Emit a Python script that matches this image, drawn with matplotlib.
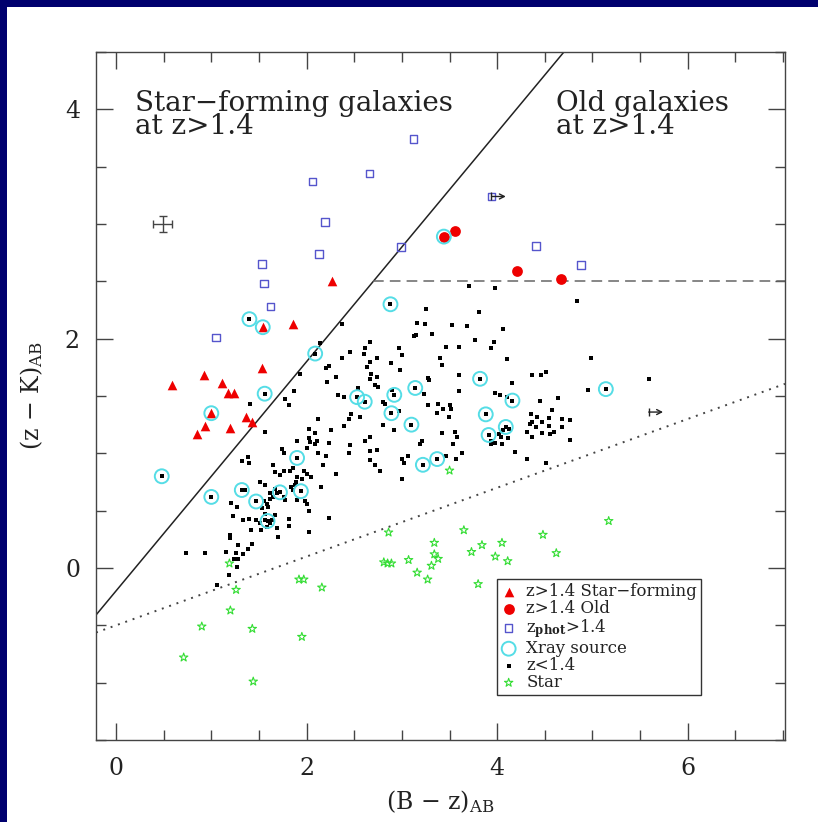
import numpy as np
import matplotlib
matplotlib.use("Agg")
import matplotlib.pyplot as plt
from matplotlib.patches import Rectangle
from matplotlib.ticker import MultipleLocator

plt.rcParams['font.family'] = ['DejaVu Serif']
plt.rcParams['mathtext.fontset'] = 'dejavuserif'

# ---------------- data: (B-z, z-K) colours ----------------
sf_pts = [(2.27, 2.50), (1.86, 2.13), (1.54, 2.10), (1.53, 1.74), (0.92, 1.68),
          (0.59, 1.60), (1.11, 1.61), (1.18, 1.53), (1.24, 1.53), (1.00, 1.35),
          (1.36, 1.32), (1.43, 1.27), (0.93, 1.24), (0.85, 1.17), (1.20, 1.22)]

old_pts = [(3.44, 2.89), (3.56, 2.94), (4.21, 2.59), (4.67, 2.52)]

phot_pts = [(3.12, 3.74), (2.66, 3.44), (2.06, 3.37), (2.19, 3.02), (2.99, 2.80),
            (2.13, 2.74), (1.53, 2.65), (1.55, 2.48), (1.62, 2.28), (1.05, 2.01),
            (3.94, 3.24), (4.41, 2.81), (4.88, 2.64)]

xray_pts = [(1.40, 2.17), (1.54, 2.10), (2.09, 1.87), (1.56, 1.52), (1.00, 1.35),
            (0.48, 0.80), (1.00, 0.62), (1.32, 0.68), (1.47, 0.58), (1.72, 0.66),
            (1.94, 0.67), (1.59, 0.41), (1.90, 0.96), (2.88, 2.30), (2.53, 1.49),
            (2.61, 1.45), (2.92, 1.51), (3.14, 1.57), (2.89, 1.35), (3.10, 1.25),
            (3.22, 0.90), (3.37, 0.95), (3.82, 1.65), (4.16, 1.46), (3.88, 1.34),
            (4.09, 1.23), (3.91, 1.16), (5.14, 1.56), (3.44, 2.89)]

lowz_pts = [
    (0.73, 0.13), (0.93, 0.13), (1.06, -0.15), (1.19, -0.06), (1.27, 0.01), (1.15, 0.14),
    (1.26, 0.13), (1.33, 0.12), (1.28, 0.08), (1.24, 0.08), (1.38, 0.17), (1.43, 0.21),
    (1.20, 0.29), (1.20, 0.26), (1.42, 0.33), (1.33, 0.42), (1.40, 0.43), (1.47, 0.42),
    (1.21, 0.57), (1.27, 0.53), (1.23, 0.45), (1.52, 0.33), (1.51, 0.39), (1.56, 0.42),
    (1.64, 0.42), (1.67, 0.46), (1.69, 0.35), (1.70, 0.27), (1.81, 0.43), (1.82, 0.37),
    (2.02, 0.50), (2.03, 0.31), (2.23, 0.44), (2.15, 0.71), (1.59, 0.41), (1.62, 0.39),
    (1.58, 0.36), (1.28, 0.20), (1.47, 0.58), (1.55, 0.58), (1.62, 0.60), (1.58, 0.56),
    (1.60, 0.53), (1.53, 0.52), (1.56, 0.47), (1.00, 0.62), (1.32, 0.68), (1.35, 0.68),
    (1.72, 0.66), (1.94, 0.67), (1.67, 0.69), (1.69, 0.65), (1.62, 0.65), (1.76, 0.62),
    (1.77, 0.59), (1.84, 0.71), (1.88, 0.72), (1.86, 0.68), (1.90, 0.59), (1.98, 0.58),
    (2.00, 0.56), (1.51, 0.75), (1.56, 0.72), (1.65, 0.62), (1.90, 0.79), (1.89, 0.75),
    (1.65, 0.90), (1.67, 0.84), (1.72, 0.81), (1.76, 0.85), (1.83, 0.85), (1.86, 0.87),
    (1.90, 0.96), (1.38, 0.97), (1.40, 0.92), (1.32, 0.93), (2.00, 0.82), (1.97, 0.85),
    (1.95, 0.78), (2.05, 0.79), (2.31, 0.82), (1.74, 1.04), (1.76, 1.00), (2.12, 1.00),
    (2.20, 0.98), (2.17, 0.90), (1.90, 1.11), (2.00, 1.05), (2.04, 1.10), (2.09, 1.08),
    (1.40, 2.17), (2.09, 1.87), (1.56, 1.52), (2.14, 1.96), (2.20, 1.74), (2.24, 1.76),
    (1.93, 1.69), (2.21, 1.62), (1.87, 1.54), (1.77, 1.47), (1.82, 1.42), (1.41, 1.43),
    (2.12, 1.30), (1.56, 1.19), (2.02, 1.21), (2.09, 1.18), (2.03, 1.13), (2.11, 1.11),
    (2.24, 1.09), (2.37, 2.13), (2.26, 1.20),
    (2.88, 2.30), (3.25, 2.26), (3.16, 2.14), (3.24, 2.13), (3.53, 2.12), (3.68, 2.11),
    (3.70, 2.46), (3.13, 2.02), (3.15, 2.03), (3.32, 2.04), (2.66, 1.97), (2.61, 1.92),
    (2.46, 1.88), (2.60, 1.87), (2.97, 1.92), (3.00, 1.86), (3.46, 1.93), (3.60, 1.93),
    (2.37, 1.83), (2.74, 1.83), (2.66, 1.80), (2.89, 1.79), (2.63, 1.75), (3.40, 1.83),
    (3.42, 1.77), (2.98, 1.73), (2.31, 1.67), (2.68, 1.69), (2.66, 1.65), (2.74, 1.67),
    (3.27, 1.66), (3.28, 1.64), (3.60, 1.68), (2.72, 1.60), (2.75, 1.58), (2.33, 1.51),
    (2.39, 1.49), (2.53, 1.49), (2.61, 1.45), (2.54, 1.57), (2.80, 1.45), (2.82, 1.43),
    (2.92, 1.51), (2.90, 1.55), (3.14, 1.57), (3.23, 1.52), (3.60, 1.54), (3.27, 1.42),
    (3.38, 1.43), (3.37, 1.35), (3.43, 1.39), (3.50, 1.42), (3.52, 1.39), (3.49, 1.32),
    (2.47, 1.34), (2.44, 1.30), (2.56, 1.32), (2.89, 1.35), (2.97, 1.37), (2.39, 1.24),
    (2.61, 1.11), (2.67, 1.14), (2.46, 1.07), (2.44, 1.00), (2.67, 1.02), (2.74, 1.03),
    (2.66, 0.94), (2.72, 0.90), (2.77, 0.85), (2.80, 1.25), (2.92, 1.20), (3.00, 0.95),
    (3.02, 0.92), (3.06, 0.98), (3.00, 0.78), (3.21, 1.11), (3.19, 1.08), (3.42, 1.18),
    (3.56, 1.19), (3.58, 1.14), (3.54, 1.08), (3.46, 0.98), (3.57, 0.95), (3.63, 1.00),
    (3.10, 1.25), (3.22, 0.90), (3.37, 0.95),
    (3.98, 2.44), (4.84, 2.33), (3.81, 2.23), (4.06, 2.08), (3.77, 1.99), (3.97, 1.97),
    (3.93, 1.92), (4.10, 1.82), (4.98, 1.83), (4.37, 1.68), (4.46, 1.68), (4.51, 1.71),
    (3.82, 1.65), (4.16, 1.61), (3.98, 1.53), (4.03, 1.51), (4.10, 1.49), (4.16, 1.46),
    (4.95, 1.55), (5.14, 1.56), (4.45, 1.46), (4.64, 1.48), (3.88, 1.34), (4.57, 1.38),
    (4.35, 1.34), (4.42, 1.32), (4.54, 1.31), (4.68, 1.30), (4.76, 1.29), (4.34, 1.26),
    (4.37, 1.27), (4.47, 1.27), (4.41, 1.23), (4.68, 1.23), (4.54, 1.24), (4.31, 1.19),
    (4.47, 1.18), (4.55, 1.17), (4.60, 1.19), (4.09, 1.23), (4.06, 1.20), (4.12, 1.21),
    (4.02, 1.17), (4.04, 1.14), (4.11, 1.13), (4.37, 1.14), (4.76, 1.12), (3.91, 1.16),
    (3.94, 1.11), (3.98, 1.09), (4.05, 1.08), (3.93, 1.08), (4.19, 1.01), (4.31, 0.95),
    (4.51, 0.92), (5.59, 1.65), (0.48, 0.80)]

star_pts = [(2.86, 0.31), (3.65, 0.33), (3.34, 0.22), (3.84, 0.20), (4.05, 0.22),
            (3.73, 0.14), (3.34, 0.12), (3.38, 0.08), (3.31, 0.02), (3.98, 0.10),
            (4.11, 0.06), (2.81, 0.05), (2.85, 0.04), (2.89, 0.04), (3.07, 0.07),
            (3.16, -0.04), (3.27, -0.10), (3.80, -0.14), (1.19, 0.04), (1.92, -0.10),
            (1.97, -0.10), (2.16, -0.17), (1.26, -0.19), (1.20, -0.37), (0.90, -0.51),
            (1.43, -0.53), (1.95, -0.60), (0.71, -0.78), (1.44, -0.99), (3.50, 0.85),
            (5.17, 0.41), (4.48, 0.29), (4.62, 0.13)]

# lower limits in B-z (arrows pointing to redder colours)
limit_x = [3.94, 5.59]
limit_y = [3.24, 1.36]
limit_len = 0.15

# typical error bar
err_pos = (0.49, 3.0)
err_size = (0.10, 0.07)

# selection boundaries
bzk_cut = -0.2        # (z-K) = (B-z) - 0.2
old_cut = 2.5         # (z-K) = 2.5
star_slope, star_icpt = 0.3, -0.5

region_labels = ["Star\u2212forming galaxies\nat z>1.4", "Old galaxies\nat z>1.4"]
legend_labels = ["z>1.4 Star\u2212forming", "z>1.4 Old", r"z$_{\mathbf{phot}}$>1.4",
                 "Xray source", "z<1.4", "Star"]

xlim = (-0.21, 7.02)
ylim = (-1.5, 4.5)

# ---------------- figure ----------------
W, H = 818, 822
fig = plt.figure(figsize=(W / 100, H / 100), dpi=100)
fig.patch.set_facecolor('#00006e')
fig.add_artist(Rectangle((7 / W, 0), 1, 1 - 7 / H, transform=fig.transFigure,
                         facecolor='white', edgecolor='none', zorder=-10))

ax = fig.add_axes([96 / W, 1 - 740 / H, (785 - 96) / W, (740 - 52) / H])
ax.set_xlim(*xlim)
ax.set_ylim(*ylim)

def xy(pts):
    a = np.array(pts, dtype=float)
    return a[:, 0], a[:, 1]

# boundaries
xs = np.array(xlim)
ax.plot(xs, xs + bzk_cut, color='#222222', lw=1.1, zorder=2)
ax.plot([old_cut - bzk_cut, xlim[1]], [old_cut, old_cut], color='#666666', lw=1.1,
        ls=(0, (7, 4)), zorder=2)
ax.plot(xs, star_slope * xs + star_icpt, color='#444444', lw=1.4, ls=(0, (1, 3)), zorder=2)

# points
h_low = ax.scatter(*xy(lowz_pts), s=12, marker='s', c='black', linewidths=0, zorder=3)
h_star = ax.scatter(*xy(star_pts), s=40, marker='*', facecolors='none',
                    edgecolors='#33dd33', linewidths=0.8, zorder=3)
h_sf = ax.scatter(*xy(sf_pts), s=48, marker='^', c='#ee0000', linewidths=0, zorder=4)
h_old = ax.scatter(*xy(old_pts), s=60, marker='o', c='#ee0000', linewidths=0, zorder=4)
h_phot = ax.scatter(*xy(phot_pts), s=30, marker='s', facecolors='none',
                    edgecolors='#5555cc', linewidths=1.0, zorder=4)
h_xray = ax.scatter(*xy(xray_pts), s=100, marker='o', facecolors='none',
                    edgecolors='#55dde6', linewidths=1.4, zorder=5)

# limit arrows: short bar at the measured colour, open head at the end
ax.scatter(limit_x, limit_y, s=40, marker='|', c='#222222', linewidths=1.0, zorder=6)
for x0, y0 in zip(limit_x, limit_y):
    ax.annotate('', xy=(x0 + limit_len, y0), xytext=(x0, y0),
                arrowprops=dict(arrowstyle='->,head_length=0.35,head_width=0.18',
                                color='#222222', lw=1.0, shrinkA=0, shrinkB=0), zorder=6)

ax.errorbar(*err_pos, xerr=err_size[0], yerr=err_size[1], fmt='none',
            ecolor='#444444', elinewidth=1.0, capsize=3, capthick=1.0, zorder=6)

# region labels
for label, x0 in zip(region_labels, [0.20, 4.62]):
    ax.text(x0, 4.17, label, fontsize=20, color='#222222', va='top', ha='left',
            linespacing=0.82)

# axes styling
ax.xaxis.set_major_locator(MultipleLocator(2))
ax.xaxis.set_minor_locator(MultipleLocator(0.5))
ax.yaxis.set_major_locator(MultipleLocator(2))
ax.yaxis.set_minor_locator(MultipleLocator(0.5))
ax.tick_params(which='both', direction='in', top=True, right=True, color='#444444',
               width=1.0, labelcolor='#222222')
ax.tick_params(which='major', length=12.5, labelsize=17)
ax.tick_params(axis='x', which='major', pad=12)
ax.tick_params(axis='y', which='major', pad=11.5)
ax.tick_params(which='minor', length=7)
for sp in ax.spines.values():
    sp.set_color('#444444')
    sp.set_linewidth(1.0)

ax.set_xlabel(r"(B $-$ z)$_{\rm AB}$", fontsize=17, color='#222222', labelpad=6)
ax.set_ylabel(r"(z $-$ K)$_{\rm AB}$", fontsize=17, color='#222222', labelpad=14)

leg = ax.legend([h_sf, h_old, h_phot, h_xray, h_low, h_star], legend_labels,
                loc='upper left', bbox_to_anchor=(0.582, 0.234), borderaxespad=0,
                fontsize=12, frameon=True, fancybox=False, edgecolor='#333333',
                framealpha=1, borderpad=0.25, labelspacing=0.0, handletextpad=0.6,
                handlelength=0.9, scatterpoints=1)
leg.get_frame().set_linewidth(1.0)
for t in leg.get_texts():
    t.set_color('#222222')

fig.savefig('out.png', dpi=100, facecolor=fig.get_facecolor())
